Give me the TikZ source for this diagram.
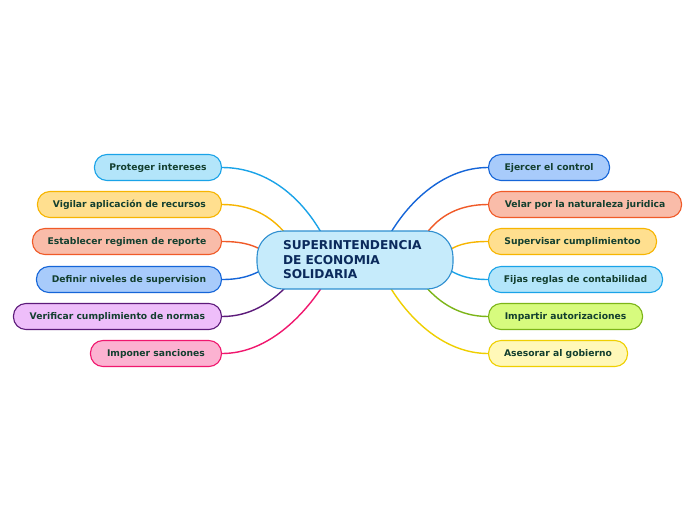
\documentclass[tikz,border=0pt]{standalone}
\usepackage{fontspec}
\setmainfont{DejaVu Sans}
\usetikzlibrary{backgrounds}
\definecolor{txtleaf}{HTML}{133F2F}
\definecolor{txtmain}{HTML}{0B2A5C}
\definecolor{fMain}{HTML}{C6EBFB}\definecolor{dMain}{HTML}{2F8FD0}
\definecolor{fCyan}{HTML}{B3E5FA}\definecolor{dCyan}{HTML}{1AA3E8}
\definecolor{fYel}{HTML}{FFDF8F}\definecolor{dYel}{HTML}{F7B500}
\definecolor{fOra}{HTML}{F9BCA9}\definecolor{dOra}{HTML}{F05A28}
\definecolor{fBlu}{HTML}{A8CBFB}\definecolor{dBlu}{HTML}{1565D8}
\definecolor{fPur}{HTML}{EEBEFA}\definecolor{dPur}{HTML}{5C1A7A}
\definecolor{fPin}{HTML}{FCB2D1}\definecolor{dPin}{HTML}{F0176E}
\definecolor{fGrn}{HTML}{D7FB7E}\definecolor{dGrn}{HTML}{7CB518}
\definecolor{fLem}{HTML}{FFF8B8}\definecolor{dLem}{HTML}{EFCF00}
\tikzset{
  leaf/.style={rounded corners=12.5pt, minimum height=26pt, inner sep=0pt,
    line width=1.1pt, text=txtleaf, font=\fontsize{9.2}{11}\selectfont\bfseries},
  lleaf/.style={leaf, anchor=east},
  rleaf/.style={leaf, anchor=west},
  conn/.style={line width=1.4pt},
  mainbox/.style={rounded corners=26pt, minimum width=196pt, minimum height=58pt,
    inner xsep=26pt, inner ysep=0pt, text width=144pt, align=left,
    fill=fMain, draw=dMain, line width=1.1pt, text=txtmain,
    font=\fontsize{12.2}{14.5}\selectfont\bfseries}
}
\begin{document}
\begin{tikzpicture}[x=1pt,y=-1pt]
\useasboundingbox (0,0) rectangle (696,520);
\fill[white] (0,0) rectangle (696,520);
% leaves left
\node[lleaf, fill=fCyan, draw=dCyan, minimum width=127pt] (l1) at (222,167.5) {Proteger intereses};
\node[lleaf, fill=fYel, draw=dYel, minimum width=184pt] (l2) at (222,204.5) {Vigilar aplicación de recursos};
\node[lleaf, fill=fOra, draw=dOra, minimum width=189pt] (l3) at (222,241.5) {Establecer regimen de reporte};
\node[lleaf, fill=fBlu, draw=dBlu, minimum width=185pt] (l4) at (222,279.5) {Definir niveles de supervision};
\node[lleaf, fill=fPur, draw=dPur, minimum width=208pt] (l5) at (222,316.5) {Verificar cumplimiento de normas};
\node[lleaf, fill=fPin, draw=dPin, minimum width=131pt] (l6) at (222,353.5) {Imponer sanciones};
% leaves right
\node[rleaf, fill=fBlu, draw=dBlu, minimum width=121pt] (r1) at (488,167.5) {Ejercer el control};
\node[rleaf, fill=fOra, draw=dOra, minimum width=193pt] (r2) at (488,204.5) {Velar por la naturaleza juridica};
\node[rleaf, fill=fYel, draw=dYel, minimum width=168pt] (r3) at (488,241.5) {Supervisar cumplimientoo};
\node[rleaf, fill=fCyan, draw=dCyan, minimum width=174pt] (r4) at (488,279.5) {Fijas reglas de contabilidad};
\node[rleaf, fill=fGrn, draw=dGrn, minimum width=154pt] (r5) at (488,316.5) {Impartir autorizaciones};
\node[rleaf, fill=fLem, draw=dLem, minimum width=139pt] (r6) at (488,353.5) {Asesorar al gobierno};
% connector end points on the central node
\coordinate (e1) at (322,234);
\coordinate (e2) at (286,234);
\coordinate (e3) at (260,249);
\coordinate (e4) at (260,271);
\coordinate (e5) at (286,287);
\coordinate (e6) at (322,287);
\coordinate (f1) at (390,234);
\coordinate (f2) at (426,234);
\coordinate (f3) at (451,249);
\coordinate (f4) at (451,271);
\coordinate (f5) at (426,287);
\coordinate (f6) at (390,287);
% connectors
\draw[conn, draw=dCyan] (l1.east) .. controls (265,167.5) and (300,195) .. (e1);
\draw[conn, draw=dYel] (l2.east) .. controls (250,204.5) and (270,215) .. (e2);
\draw[conn, draw=dOra] (l3.east) .. controls (240,241.5) and (250,244) .. (e3);
\draw[conn, draw=dBlu] (l4.east) .. controls (240,279.5) and (250,276) .. (e4);
\draw[conn, draw=dPur] (l5.east) .. controls (250,316.5) and (270,303) .. (e5);
\draw[conn, draw=dPin] (l6.east) .. controls (265,353.5) and (300,320) .. (e6);
\draw[conn, draw=dBlu] (r1.west) .. controls (445,167.5) and (410,200) .. (f1);
\draw[conn, draw=dOra] (r2.west) .. controls (460,204.5) and (440,215) .. (f2);
\draw[conn, draw=dYel] (r3.west) .. controls (470,241.5) and (460,244) .. (f3);
\draw[conn, draw=dCyan] (r4.west) .. controls (470,279.5) and (460,276) .. (f4);
\draw[conn, draw=dGrn] (r5.west) .. controls (460,316.5) and (440,303) .. (f5);
\draw[conn, draw=dLem] (r6.west) .. controls (445,353.5) and (410,320) .. (f6);
% central node
\node[mainbox] (c) at (355,260) {SUPERINTENDENCIA\\DE ECONOMIA\\SOLIDARIA};
\end{tikzpicture}
\end{document}
